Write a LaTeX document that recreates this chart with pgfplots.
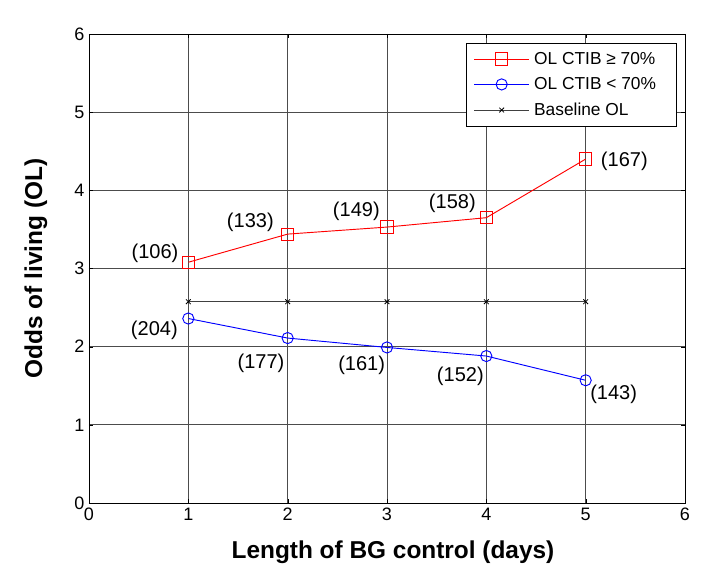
\documentclass[border=0pt]{standalone}
\usepackage{fontspec}
\setmainfont{Liberation Sans}
\usepackage{pgfplots}
\usepackage{pgfplotstable}
\pgfplotsset{compat=1.18}
\definecolor{olred}{RGB}{255,0,0}
\definecolor{olblue}{RGB}{0,0,255}

% x y lab dx dy  (dx, dy: label offset in pt)
\pgfplotstableread{
x y lab dx dy
1 3.08 106 -25 7
2 3.44 133 -28 9
3 3.53 149 -23 12
4 3.65 158 -25.5 11
5 4.40 167 29 -2
}\hitab
\pgfplotstableread{
x y lab dx dy
1 2.36 204 -25.5 -9
2 2.11 177 -20 -19
3 1.99 161 -19 -13.5
4 1.88 152 -19.5 -15
5 1.57 143 21 -10.5
}\lotab
\pgfplotstableread{
x y
1 2.575
2 2.575
3 2.575
4 2.575
5 2.575
}\basetab

\pgfplotsset{
  countlabels/.style={
    black, draw=none, mark=none, forget plot,
    point meta=explicit symbolic,
    visualization depends on={\thisrow{dx} \as \dx},
    visualization depends on={\thisrow{dy} \as \dy},
    nodes near coords={(\pgfplotspointmeta)},
    every node near coord/.append style={anchor=center, xshift=\dx pt, yshift=\dy pt,
      font=\fontsize{15}{18}\selectfont},
  },
}

\begin{document}
\begin{tikzpicture}
\begin{axis}[
  name=ax,
  scale only axis,
  width=447pt, height=351.75pt,
  xmin=0, xmax=6, ymin=0, ymax=6,
  xtick={0,...,6}, ytick={0,...,6},
  grid=major,
  major grid style={black!70, line width=0.6pt},
  axis line style={black, line width=0.6pt},
  tick align=inside,
  major tick length=3pt,
  tick style={black},
  /pgf/number format/assume math mode=true,
  tick label style={font=\fontsize{13.5}{16}\selectfont},
  xlabel={Length of BG control (days)},
  ylabel={Odds of living (OL)},
  label style={font=\fontsize{18.3}{22}\selectfont\bfseries},
  xlabel style={at={(axis description cs:0.51,-0.1045)}, anchor=center},
  ylabel style={at={(axis description cs:-0.089,0.5)}, anchor=center},
  legend style={at={(0.9866,0.9808)}, anchor=north east, draw=black, fill=white,
    font=\fontsize{13}{15.5}\selectfont, row sep=5.5pt, inner xsep=6pt,
    inner ysep=5pt, column sep=2pt, nodes={inner sep=1.5pt},
    cells={anchor=west}},
  legend image code/.code={\draw[mark repeat=2, mark phase=2, #1]
    plot coordinates {(0pt,0pt) (20.5pt,0pt) (41pt,0pt)};},
]
\addplot[color=olred, line width=0.7pt, mark=square, mark size=4.6pt,
  mark options={solid, draw=olred}] table {\hitab};
\addlegendentry{OL CTIB ≥ 70\%\hspace*{8.5pt}}
\addplot[color=olblue, line width=0.7pt, mark=o, mark size=4.2pt,
  mark options={solid, draw=olblue}] table {\lotab};
\addlegendentry{OL CTIB < 70\%}
\addplot[black!75, line width=0.6pt, mark=x, mark size=2.5pt,
  mark options={black}] table {\basetab};
\addlegendentry{Baseline OL}
% sample sizes
\addplot[countlabels] table[meta=lab] {\hitab};
\addplot[countlabels] table[meta=lab] {\lotab};
\end{axis}
\pgfresetboundingbox
\path[use as bounding box] ([shift={(-66.75pt,-63pt)}]ax.south west)
  rectangle ([shift={(29.25pt,25.5pt)}]ax.north east);
\end{tikzpicture}
\end{document}
